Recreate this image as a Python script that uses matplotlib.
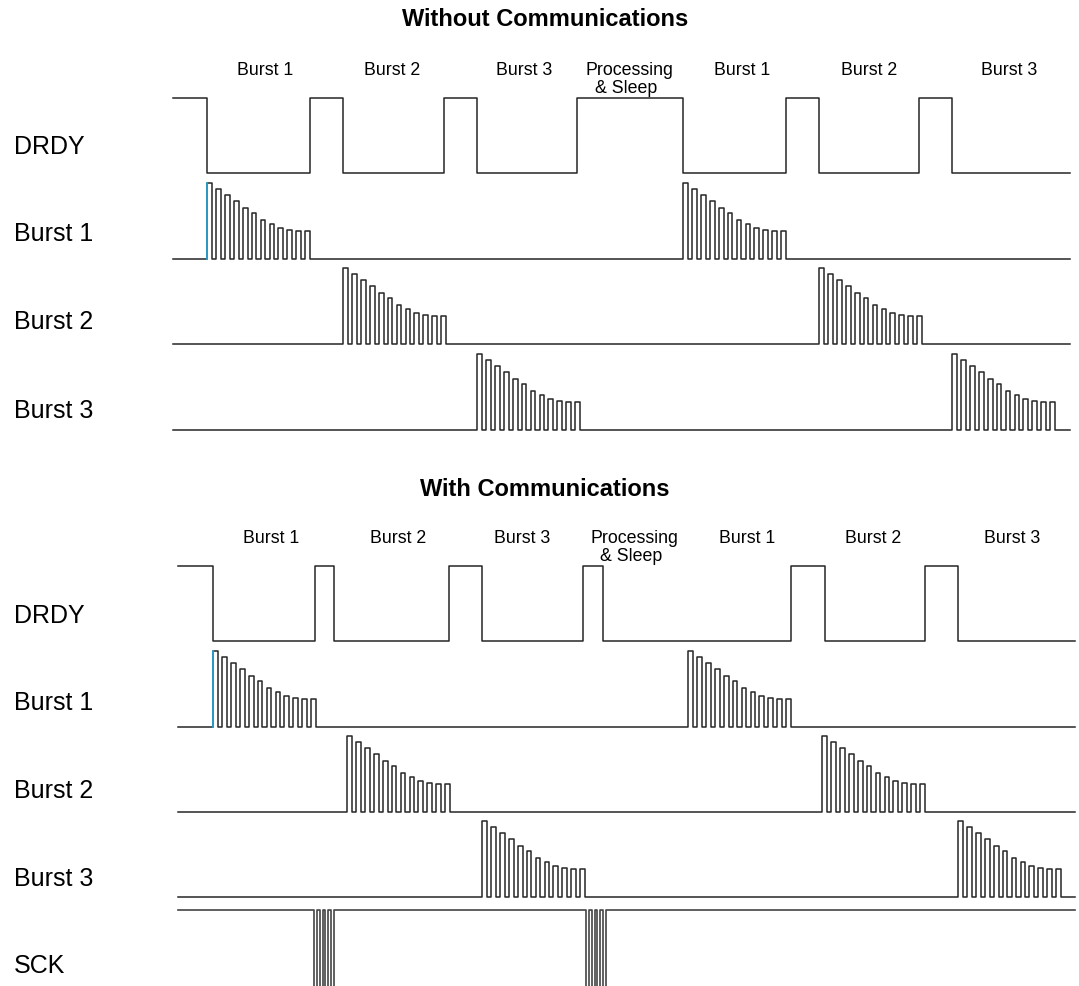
import matplotlib.pyplot as plt

plt.rcParams['font.family'] = ['Liberation Sans', 'DejaVu Sans']

# relative heights of the 12 pulses of each burst
pulse_heights = [1.0, 0.916, 0.841, 0.758, 0.674, 0.599, 0.515, 0.454, 0.414, 0.388, 0.374, 0.37]
pulse_period = 8.93
pulse_width = 4.8

row_labels_top = ["DRDY", "Burst 1", "Burst 2", "Burst 3"]
row_labels_bot = ["DRDY", "Burst 1", "Burst 2", "Burst 3", "SCK"]

# top diagram: Without Communications
drdy_edges_top = [207, 310, 343, 444, 477, 577, 683, 786, 819, 919, 952]
burst_starts_top = {"Burst 1": [207, 683], "Burst 2": [343, 819], "Burst 3": [477, 952]}
phase_labels_top = [("Burst 1", 265), ("Burst 2", 392), ("Burst 3", 524),
                    ("Processing", 629), ("Burst 1", 742), ("Burst 2", 869), ("Burst 3", 1009)]
sleep_x_top = 626

# bottom diagram: With Communications
drdy_edges_bot = [213, 315, 334, 449, 482, 583, 603, 791, 825, 925, 958]
burst_starts_bot = {"Burst 1": [213, 688], "Burst 2": [347, 822], "Burst 3": [482, 958]}
sck_starts = [314, 586]
sck_count = 4
phase_labels_bot = [("Burst 1", 271), ("Burst 2", 398), ("Burst 3", 522),
                    ("Processing", 634), ("Burst 1", 747), ("Burst 2", 873), ("Burst 3", 1012)]
sleep_x_bot = 631

LC = '#262626'
LW = 1.1


def drdy_wave(x0, x1, edges, hi, lo):
    xs, ys = [x0], [hi]
    level = hi
    for e in edges:
        xs += [e, e]
        ys += [level, lo if level == hi else hi]
        level = ys[-1]
    xs.append(x1)
    ys.append(level)
    return xs, ys


def burst_wave(x0, x1, starts, base, amp):
    xs, ys = [x0], [base]
    for s in starts:
        for i, h in enumerate(pulse_heights):
            t = s + i * pulse_period
            xs += [t, t, t + pulse_width, t + pulse_width]
            ys += [base, base - amp * h, base - amp * h, base]
    xs.append(x1)
    ys.append(base)
    return xs, ys


def sck_wave(x0, x1, starts, hi, lo):
    xs, ys = [x0], [hi]
    for s in starts:
        for i in range(sck_count):
            t = s + i * 5.6
            xs += [t, t, t + 3, t + 3]
            ys += [hi, lo, lo, hi]
    xs.append(x1)
    ys.append(hi)
    return xs, ys


fig = plt.figure(figsize=(10.79, 9.87), dpi=100)
ax = fig.add_axes([0, 0, 1, 1])
ax.set_xlim(0, 1079)
ax.set_ylim(987, 0)
ax.axis('off')


def section(title, title_y, phases, sleep_x, label_base, x0, x1, edges, drdy_hi, drdy_lo,
            starts, bases, label_rows):
    ax.text(545, title_y, title, ha='center', va='center', fontsize=17, fontweight='bold')
    for txt, px in phases:
        ax.text(px, label_base, txt, ha='center', va='baseline', fontsize=12.8)
    ax.text(sleep_x, label_base + 18, "& Sleep", ha='center', va='baseline', fontsize=12.8)
    xs, ys = drdy_wave(x0, x1, edges, drdy_hi, drdy_lo)
    ax.plot(xs, ys, color=LC, lw=LW)
    for name, base in bases.items():
        xs, ys = burst_wave(x0, x1, starts[name], base, 76)
        ax.plot(xs, ys, color=LC, lw=LW)
    # blue first edge
    b1 = bases["Burst 1"]
    s1 = starts["Burst 1"][0]
    ax.plot([s1, s1], [b1, b1 - 76], color='#2a9fd0', lw=1.3)
    for txt, y in label_rows:
        ax.text(14, y, txt, ha='left', va='center', fontsize=18)


section("Without Communications", 19, phase_labels_top, sleep_x_top, 75, 173, 1070,
        drdy_edges_top, 99, 174, burst_starts_top,
        {"Burst 1": 260, "Burst 2": 345, "Burst 3": 431},
        list(zip(row_labels_top, [147, 234, 322, 411])))

section("With Communications", 489, phase_labels_bot, sleep_x_bot, 543, 178, 1075,
        drdy_edges_bot, 567, 642, burst_starts_bot,
        {"Burst 1": 728, "Burst 2": 813, "Burst 3": 898},
        list(zip(row_labels_bot, [616, 703, 791, 879, 966])))

xs, ys = sck_wave(178, 1075, sck_starts, 911, 1000)
ax.plot(xs, ys, color='#444444', lw=1.2)

fig.savefig('out.png', dpi=100)
